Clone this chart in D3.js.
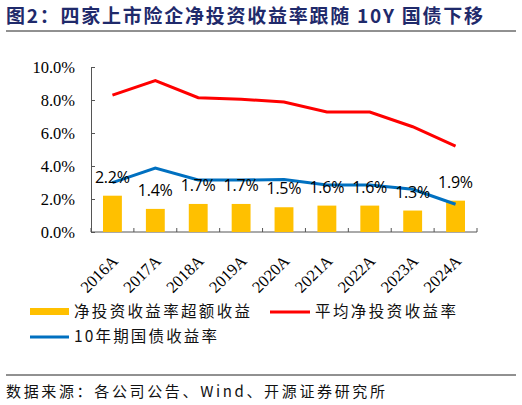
<!DOCTYPE html>
<html>
<head>
<meta charset="utf-8">
<script src="https://cdn.jsdelivr.net/npm/d3@7"></script>
<style>
  body { margin: 0; background: #fff; }
  svg { display: block; }
  .serif { font-family: "Liberation Serif", "Times New Roman", "DejaVu Serif", serif; }
</style>
</head>
<body>
<svg id="chart" width="522" height="405"></svg>
<script>
var years = ['2016A', '2017A', '2018A', '2019A', '2020A', '2021A', '2022A', '2023A', '2024A']
var excess = [2.2, 1.4, 1.7, 1.7, 1.5, 1.6, 1.6, 1.3, 1.9]
var avgYield = [8.30, 9.17, 8.14, 8.05, 7.88, 7.27, 7.27, 6.38, 5.21]
var bond10y = [2.99, 3.88, 3.15, 3.15, 3.18, 2.85, 2.85, 2.59, 1.68]
var yTicks = [0, 2, 4, 6, 8, 10]

var cjk = '"Noto Sans CJK SC", sans-serif'
var svg = d3.select('#chart')

// title
svg.append('text')
   .attr('x', 6).attr('y', 23)
   .attr('fill', '#1f2a6b')
   .style('font-family', cjk)
   .style('font-weight', 'bold')
   .style('font-size', '19px')
   .attr('textLength', 477)
   .text('图2：四家上市险企净投资收益率跟随 10Y 国债下移')

svg.append('line')
   .attr('x1', 6).attr('x2', 516).attr('y1', 31).attr('y2', 31)
   .attr('stroke', '#222').attr('stroke-width', 1)

var x = d3.scaleBand().domain(years).range([91, 477]).paddingInner(0.56).paddingOuter(0.28)
var y = d3.scaleLinear().domain([0, 10]).range([232, 67])
var bw = 386 / 9

// axes
var gy = svg.append('g').attr('transform', 'translate(91,0)')
gy.call(d3.axisLeft(y).tickValues(yTicks).tickSize(-4).tickPadding(16).tickFormat(d => d.toFixed(1) + '%'))
gy.attr('font-family', null)
gy.select('.domain').attr('stroke', '#555')
gy.selectAll('.tick line').attr('stroke', '#555')
gy.selectAll('.tick text')
  .attr('class', 'serif')
  .attr('fill', '#000')
  .style('font-size', '16.5px')

var gx = svg.append('g').attr('transform', 'translate(0,232)')
gx.append('line').attr('x1', 91).attr('x2', 477).attr('stroke', '#555')
gx.selectAll('line.tk')
  .data(d3.range(10))
  .enter()
  .append('line')
  .attr('class', 'tk')
  .attr('x1', d => 91 + d * bw).attr('x2', d => 91 + d * bw)
  .attr('y1', 0).attr('y2', -4)
  .attr('stroke', '#555')
gx.selectAll('text')
  .data(years)
  .enter()
  .append('text')
  .attr('class', 'serif')
  .attr('transform', d => 'translate(' + (x(d) + x.bandwidth() / 2 + 6.5) + ',30) rotate(-45)')
  .attr('text-anchor', 'end')
  .style('font-size', '16.5px')
  .text(d => d)

// bars
svg.selectAll('rect.bar')
   .data(excess)
   .enter()
   .append('rect')
   .attr('class', 'bar')
   .attr('x', (d, i) => x(years[i]))
   .attr('width', x.bandwidth())
   .attr('y', d => y(d))
   .attr('height', d => y(0) - y(d))
   .attr('fill', '#ffc000')

var line = d3.line()
             .x((d, i) => x(years[i]) + x.bandwidth() / 2)
             .y(d => y(d))

svg.append('path').datum(avgYield).attr('d', line)
   .attr('fill', 'none').attr('stroke', '#ff0000').attr('stroke-width', 3)
svg.append('path').datum(bond10y).attr('d', line)
   .attr('fill', 'none').attr('stroke', '#0070c0').attr('stroke-width', 3)

// bar labels
svg.selectAll('text.lbl')
   .data(excess)
   .enter()
   .append('text')
   .attr('class', 'lbl')
   .attr('x', (d, i) => x(years[i]) + x.bandwidth() / 2)
   .attr('y', d => y(d) - 13)
   .attr('text-anchor', 'middle')
   .style('font-family', '"Open Sans", sans-serif')
   .style('font-size', '16px')
   .attr('textLength', 35)
   .text(d => d.toFixed(1) + '%')

// legend
var leg = svg.append('g')
leg.append('rect').attr('x', 30).attr('y', 308).attr('width', 39).attr('height', 7).attr('fill', '#ffc000')
leg.append('line').attr('x1', 270).attr('x2', 310).attr('y1', 312).attr('y2', 312)
   .attr('stroke', '#ff0000').attr('stroke-width', 3)
leg.append('line').attr('x1', 30).attr('x2', 69).attr('y1', 337).attr('y2', 337)
   .attr('stroke', '#0070c0').attr('stroke-width', 3)
var legText = [
  ['净投资收益率超额收益', 74, 317, 176],
  ['平均净投资收益率', 315, 317, 141],
  ['10年期国债收益率', 74, 342, 143]
]
leg.selectAll('text')
   .data(legText)
   .enter()
   .append('text')
   .attr('x', d => d[1]).attr('y', d => d[2])
   .attr('fill', '#111')
   .style('font-family', cjk)
   .style('font-size', '15.5px')
   .attr('textLength', d => d[3])
   .text(d => d[0])

svg.append('line')
   .attr('x1', 6).attr('x2', 516).attr('y1', 375).attr('y2', 375)
   .attr('stroke', '#222').attr('stroke-width', 1)

svg.append('text')
   .attr('x', 6).attr('y', 397)
   .attr('fill', '#111')
   .style('font-family', cjk)
   .style('font-size', '15px')
   .attr('textLength', 379)
   .text('数据来源：各公司公告、Wind、开源证券研究所')
</script>
</body>
</html>
